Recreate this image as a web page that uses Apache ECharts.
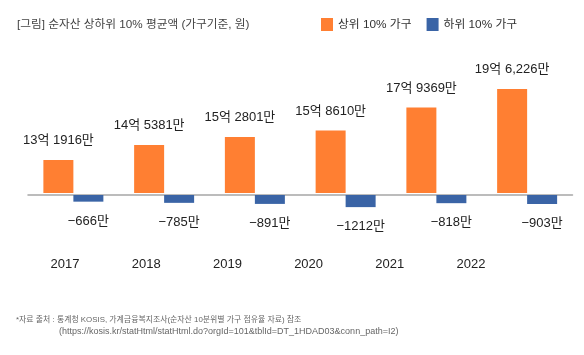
<!DOCTYPE html>
<html><head><meta charset="utf-8">
<script src="https://cdn.jsdelivr.net/npm/echarts@6/dist/echarts.min.js"></script>
<style>html,body{margin:0;padding:0;background:#fff}#c{width:584px;height:355px}</style>
</head><body><div id="c"></div>
<script>
var years = ['2017','2018','2019','2020','2021','2022'];
var top10 = [131916, 145381, 152801, 158610, 179369, 196226]; // 만원
var bottom10 = [-666, -785, -891, -1212, -818, -903]; // 만원
var topLabels = ['13억 1916만','14억 5381만','15억 2801만','15억 8610만','17억 9369만','19억 6,226만'];
var FONT = '"Liberation Sans", "Noto Sans CJK KR", sans-serif';
var ORANGE = '#FF7F32', BLUE = '#3A64A6';

var chart = echarts.init(document.getElementById('c'), null, {renderer:'canvas'});
chart.setOption({
  animation:false,
  textStyle:{fontFamily:FONT},
  title:{text:'[그림] 순자산 상하위 10% 평균액 (가구기준, 원)', left:12, top:14,
    textStyle:{fontFamily:FONT, fontSize:11.7, fontWeight:'normal', color:'#444'}},
  legend:{left:316, top:13, itemWidth:12, itemHeight:13, itemGap:15, icon:'rect',
    data:['상위 10% 가구','하위 10% 가구'],
    textStyle:{fontFamily:FONT, fontSize:11.8, color:'#333'}},
  grid:[
    {left:28, right:11.5, top:40, bottom:355-193},
    {left:28, right:11.5, top:195, height:60},
    {left:24.4, right:72.4, top:240, height:15}
  ],
  xAxis:[
    {type:'category', gridIndex:0, data:years, axisLine:{show:false}, axisTick:{show:false}, axisLabel:{show:false}},
    {type:'category', gridIndex:1, data:years, position:'top', axisLine:{show:true, onZero:false, lineStyle:{color:'#a6a6a6', width:1.5}}, axisTick:{show:false}, axisLabel:{show:false}},
    {type:'category', gridIndex:2, data:years, axisLine:{show:false}, axisTick:{show:false},
      axisLabel:{margin:3, fontFamily:FONT, fontSize:13, color:'#222'}}
  ],
  yAxis:[
    {type:'value', gridIndex:0, min:102000, max:240600, show:false, splitLine:{show:false}},
    {type:'value', gridIndex:1, min:-6000, max:0, show:false, splitLine:{show:false}},
    {type:'value', gridIndex:2, show:false, splitLine:{show:false}}
  ],
  series:[
    {name:'상위 10% 가구', type:'bar', xAxisIndex:0, yAxisIndex:0, data:top10, barWidth:30, barGap:'0%',
      itemStyle:{color:ORANGE}, clip:true,
      label:{show:true, position:'top', distance:13, fontFamily:FONT, fontSize:13, color:'#222',
        formatter:function(p){return topLabels[p.dataIndex];}}},
    {name:'하위 10% 가구', type:'bar', xAxisIndex:0, yAxisIndex:0, data:[], barWidth:30, barGap:'0%', itemStyle:{color:BLUE}},
    {name:'상위 10% 가구', type:'bar', xAxisIndex:1, yAxisIndex:1, data:[], barWidth:30, barGap:'0%', itemStyle:{color:ORANGE}},
    {name:'하위 10% 가구', type:'bar', xAxisIndex:1, yAxisIndex:1, data:bottom10, barWidth:30, barGap:'0%',
      itemStyle:{color:BLUE},
      label:{show:true, position:'bottom', distance:13, fontFamily:FONT, fontSize:13, color:'#222',
        formatter:function(p){return '\u2212' + Math.abs(p.value) + '만';}}}
  ],
  graphic:[
    {type:'text', left:16, top:316, style:{text:'*자료 출처 : 통계청 KOSIS, 가계금융복지조사(순자산 10분위별 가구 점유율 자료) 참조', fontFamily:FONT, fontSize:7.9, fill:'#666'}},
    {type:'text', left:59, top:327, style:{text:'(https://kosis.kr/statHtml/statHtml.do?orgId=101&tblId=DT_1HDAD03&conn_path=I2)', fontFamily:FONT, fontSize:9, fill:'#666'}}
  ]
});
</script></body></html>
